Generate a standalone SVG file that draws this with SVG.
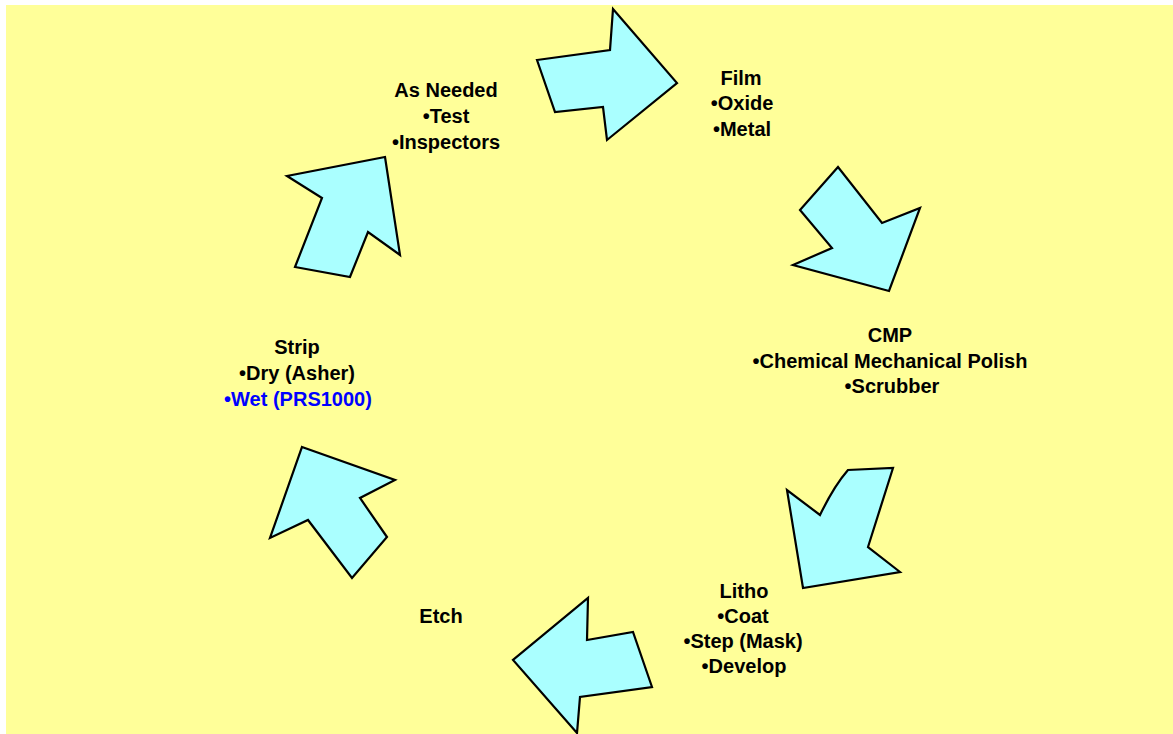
<svg xmlns="http://www.w3.org/2000/svg" width="1173" height="734" viewBox="0 0 1173 734">
<style>
.arr{fill:#AAFFFF;stroke:#000;stroke-width:2.2;stroke-linejoin:miter}
.t{font-family:"Liberation Sans",Arial,sans-serif;font-size:20px;font-weight:bold;fill:#000;text-anchor:middle}
.blue{fill:#0000FF}
</style>
<rect x="0" y="0" width="1173" height="734" fill="#FFFFFF"/>
<rect x="6" y="5" width="1167" height="729" fill="#FFFF99"/>
<g id="arrows">
<polygon id="arrow1" class="arr" points="537,60 610,50 613,9 677,83 607,140 603,107 555,112"/>
<polygon id="arrow2" class="arr" points="838,167 800,210 832,248 793,265 889,291 920,208 882,223"/>
<path id="arrow3" class="arr" d="M848,470 Q834,486 820,515 L787,490 L803,588 L900,572 L868,547 L893,468 Z"/>
<polygon id="arrow4" class="arr" points="588,598 587,640 633,632 652,687 580,697 577,733 513,660"/>
<polygon id="arrow5" class="arr" points="302,447 395,480 360,498 387,537 352,578 308,520 270,538"/>
<polygon id="arrow6" class="arr" points="385,157 400,255 368,232 350,277 295,267 322,198 287,176"/>
</g>
<g id="node-asneeded">
<text class="t" x="446" y="97">As Needed</text>
<text class="t" x="446" y="123">•Test</text>
<text class="t" x="446" y="149">•Inspectors</text>
</g>
<g id="node-film">
<text class="t" x="741" y="85">Film</text>
<text class="t" x="742" y="110">•Oxide</text>
<text class="t" x="742" y="136">•Metal</text>
</g>
<g id="node-cmp">
<text class="t" x="890" y="342">CMP</text>
<text class="t" x="890" y="368">•Chemical Mechanical Polish</text>
<text class="t" x="892" y="393">•Scrubber</text>
</g>
<g id="node-litho">
<text class="t" x="744" y="598">Litho</text>
<text class="t" x="743" y="623">•Coat</text>
<text class="t" x="743" y="648">•Step (Mask)</text>
<text class="t" x="744" y="673">•Develop</text>
</g>
<g id="node-etch">
<text class="t" x="441" y="623">Etch</text>
</g>
<g id="node-strip">
<text class="t" x="297" y="354">Strip</text>
<text class="t" x="297" y="380">•Dry (Asher)</text>
<text class="t blue" x="298" y="406">•Wet (PRS1000)</text>
</g>
</svg>
